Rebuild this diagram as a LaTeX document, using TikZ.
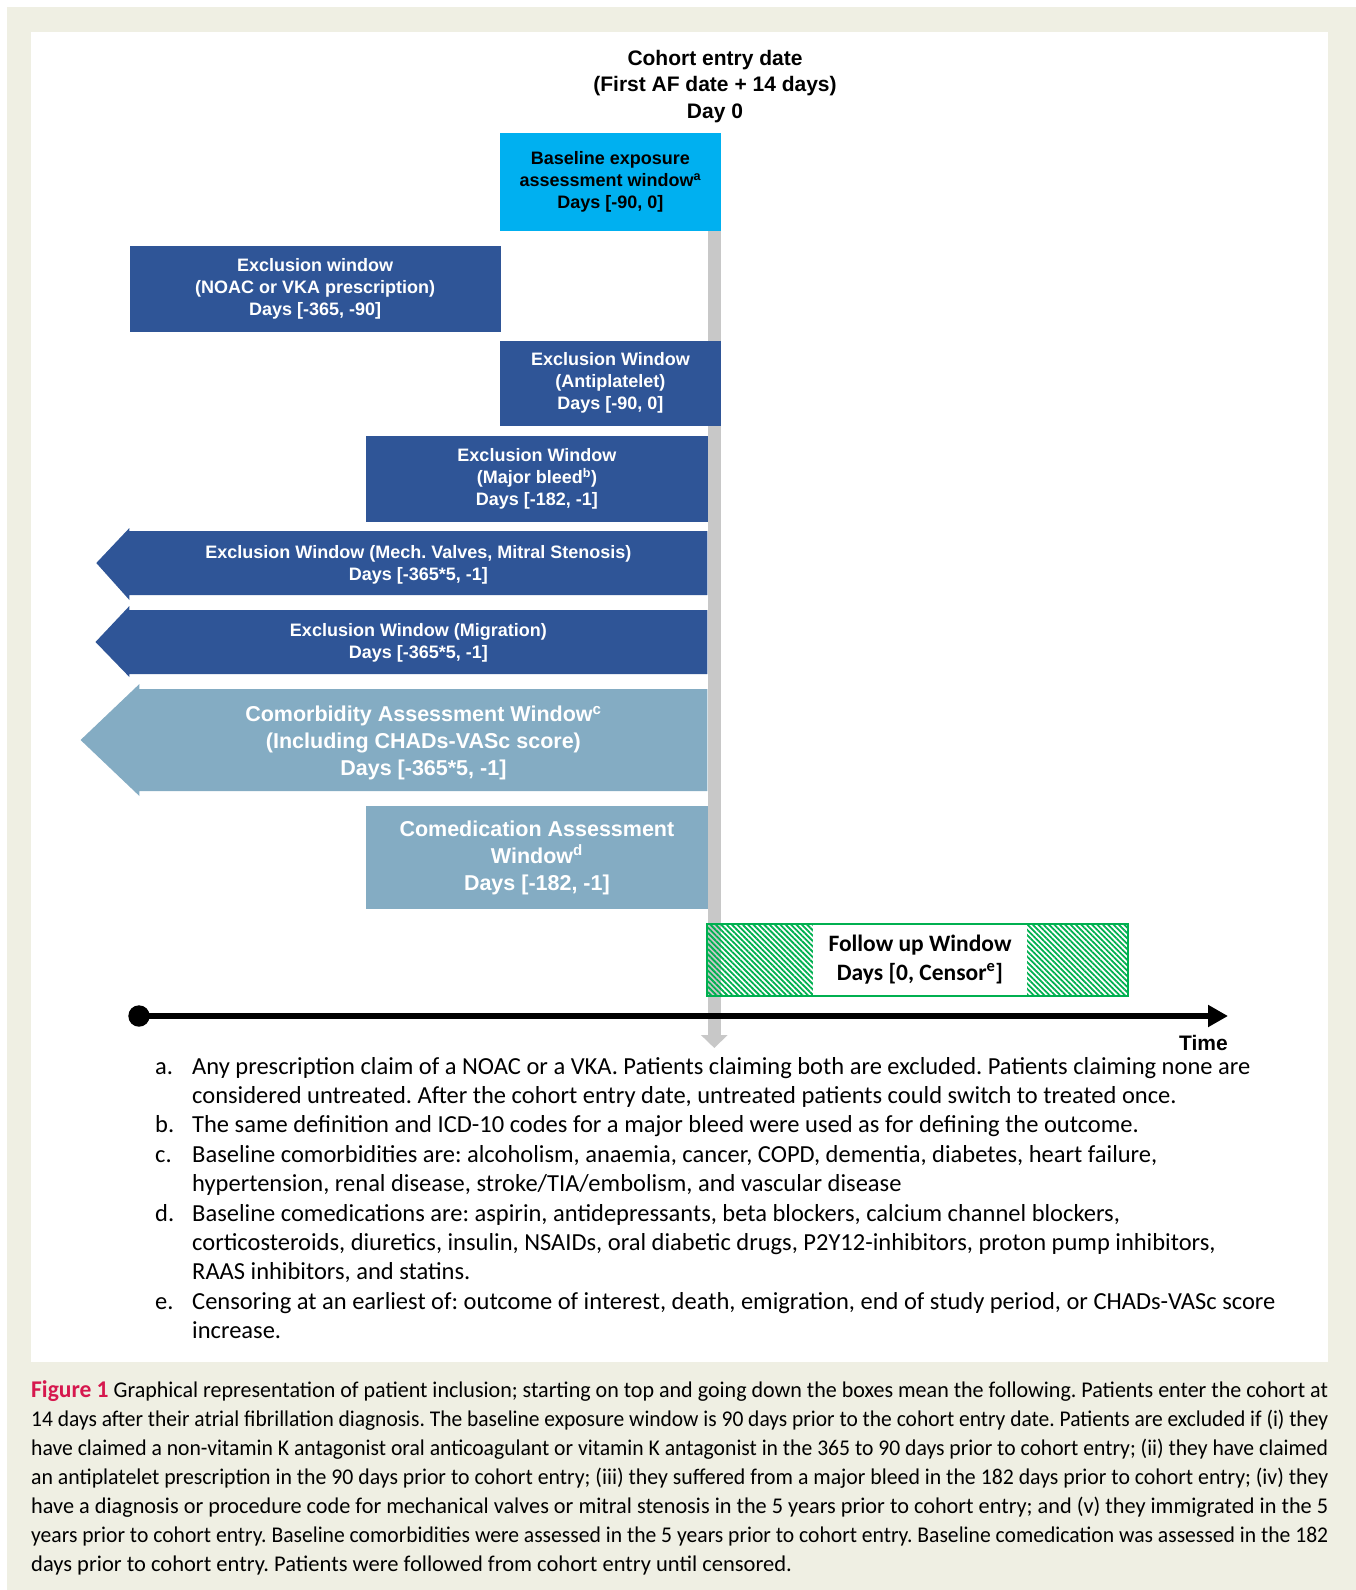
\documentclass[tikz,border=0pt]{standalone}
\usepackage{fontspec}
\usepackage{graphicx}
\setmainfont{Liberation Sans}
\newfontfamily\calibfont{Carlito}
\newfontfamily\capfont{Carlito}
\usetikzlibrary{arrows.meta,patterns.meta}
\definecolor{bgbeige}{RGB}{239,239,227}
\definecolor{basecyan}{RGB}{0,176,240}
\definecolor{exblue}{RGB}{47,85,151}
\definecolor{assessblue}{RGB}{132,172,195}
\definecolor{bargray}{RGB}{200,200,200}
\definecolor{fugreen}{RGB}{0,176,80}
\definecolor{figred}{RGB}{214,24,78}
\newsavebox\caplinebox
\newcommand\capline[1]{\sbox\caplinebox{#1}\ifdim\wd\caplinebox>1297pt\resizebox{1297pt}{\height}{\usebox\caplinebox}\else\makebox[1297pt][s]{#1}\fi}

\begin{document}
\frenchspacing
\begin{tikzpicture}[x=1pt,y=-1pt,
  winbox/.style={inner sep=0pt,anchor=north west,align=center,text=white,fill=exblue,font=\bfseries\fontsize{18}{22}\selectfont},
  assessbox/.style={winbox,fill=assessblue,font=\bfseries\fontsize{21.5}{27}\selectfont},
  arrowtext/.style={inner sep=0pt,align=center,text=white,font=\bfseries\fontsize{18}{22}\selectfont},
  notelabel/.style={inner sep=0pt,anchor=base west,font=\calibfont\fontsize{24.5}{29.4}\selectfont},
  notetext/.style={inner sep=0pt,anchor=north west,align=left,font=\calibfont\fontsize{24.5}{29.4}\selectfont}]
\useasboundingbox (0,0) rectangle (1356,1590);
\fill[bgbeige] (7,7) rectangle (1356,1590);
\fill[white] (31,32) rectangle (1328,1362);

\coordinate (bartop) at (714.3,133);
\coordinate (barend) at (714.3,1048);
\draw[bargray,line width=12.5pt,-{Triangle[length=13pt,width=26pt]}] (bartop) -- (barend);

\node[inner sep=0pt,align=center,font=\bfseries\fontsize{21}{26.3}\selectfont] (entry) at (715,86.5) {Cohort entry date\\(First AF date + 14 days)\\Day 0};

\node[winbox,fill=basecyan,text=black,minimum width=220.5pt,minimum height=98pt] (baseline) at (500,132.5) {Baseline exposure\\assessment window\textsuperscript{a}\\Days [-90, 0]};
\node[winbox,minimum width=371pt,minimum height=86pt] (noac) at (129.4,246) {Exclusion window\\(NOAC or VKA prescription)\\Days [-365, -90]};
\node[winbox,minimum width=220.5pt,minimum height=85.5pt] (antiplt) at (500,340.3) {Exclusion Window\\(Antiplatelet)\\Days [-90, 0]};
\node[winbox,minimum width=341.4pt,minimum height=85.5pt] (bleed) at (366,436) {Exclusion Window\\(Major bleed\textsuperscript{b})\\Days [-182, -1]};

\fill[exblue] (707.4,531) -- (129.4,531) -- (129.4,528) -- (96.3,563) -- (129.4,600) -- (129.4,595) -- (707.4,595) -- cycle;
\node[arrowtext] (valves) at (418.4,564.5) {Exclusion Window (Mech. Valves, Mitral Stenosis)\\Days [-365*5, -1]};
\fill[exblue] (707.4,610) -- (129.4,610) -- (129.4,606) -- (95.5,642) -- (129.4,677) -- (129.4,674) -- (707.4,674) -- cycle;
\node[arrowtext] (migration) at (418.4,643) {Exclusion Window (Migration)\\Days [-365*5, -1]};
\fill[assessblue] (707.4,689) -- (139.4,689) -- (139.4,684) -- (80.6,740) -- (139.4,796) -- (139.4,791) -- (707.4,791) -- cycle;
\node[arrowtext,font=\bfseries\fontsize{21.5}{27}\selectfont] (comorb) at (423.4,743) {Comorbidity Assessment Window\textsuperscript{c}\\(Including CHADs-VASc score)\\Days [-365*5, -1]};

\node[assessbox,minimum width=341.4pt,minimum height=102.5pt] (comed) at (366,806) {Comedication Assessment\\Window\textsuperscript{d}\\Days [-182, -1]};

\coordinate (fu0) at (707.4,923.5);
\coordinate (fu1) at (1128,995.5);
\fill[pattern={Lines[angle=-45,distance=3.8pt,line width=1.8pt]},pattern color=fugreen] (fu0) rectangle (fu1);
\node[fill=white,inner sep=0pt,minimum width=214pt,minimum height=71pt,align=center,font=\calibfont\bfseries\fontsize{23.5}{29}\selectfont] (followup) at (920,959.5) {Follow up Window\\Days [0, Censor\textsuperscript{e}]};
\draw[fugreen,line width=2pt] (fu0) rectangle (fu1);

\node[circle,fill=black,inner sep=0pt,minimum size=21.4pt] (t0) at (139,1016) {};
\coordinate (t1) at (1228,1016);
\draw[line width=6pt,-{Triangle[length=20pt,width=21pt]}] (t0.center) -- (t1);
\node[anchor=base east,inner sep=0pt,font=\bfseries\fontsize{21}{25}\selectfont] (time) at (1228,1050) {Time};

\node[notelabel] (la) at (155,1074) {a.};
\node[notetext] (na) at (192,1056) {\rule{0pt}{18pt}Any prescription claim of a NOAC or a VKA. Patients claiming both are excluded. Patients claiming none are\\considered untreated. After the cohort entry date, untreated patients could switch to treated once.};
\node[notelabel] (lb) at (155,1132.8) {b.};
\node[notetext] (nb) at (192,1112.2) {\strut The same definition and ICD-10 codes for a major bleed were used as for defining the outcome.};
\node[notelabel] (lc) at (155,1162.2) {c.};
\node[notetext] (nc) at (192,1141.6) {\strut Baseline comorbidities are: alcoholism, anaemia, cancer, COPD, dementia, diabetes, heart failure,\\hypertension, renal disease, stroke/TIA/embolism, and vascular disease};
\node[notelabel] (ld) at (155,1221) {d.};
\node[notetext] (nd) at (192,1200.4) {\strut Baseline comedications are: aspirin, antidepressants, beta blockers, calcium channel blockers,\\corticosteroids, diuretics, insulin, NSAIDs, oral diabetic drugs, P2Y12-inhibitors, proton pump inhibitors,\\RAAS inhibitors, and statins.};
\node[notelabel] (le) at (155,1309.2) {e.};
\node[notetext] (ne) at (192,1288.6) {\strut Censoring at an earliest of: outcome of interest, death, emigration, end of study period, or CHADs-VASc score\\increase.};

\node[inner sep=0pt,anchor=north west,align=left,font=\capfont\fontsize{22.5}{29}\selectfont] (caption) at (31,1377) {%
\strut\capline{\textcolor{figred}{\fontsize{24}{29}\selectfont\bfseries Figure 1} Graphical representation of patient inclusion; starting on top and going down the boxes mean the following. Patients enter the cohort at}\\
\capline{14 days after their atrial fibrillation diagnosis. The baseline exposure window is 90 days prior to the cohort entry date. Patients are excluded if (i) they}\\
\capline{have claimed a non-vitamin K antagonist oral anticoagulant or vitamin K antagonist in the 365 to 90 days prior to cohort entry; (ii) they have claimed}\\
\capline{an antiplatelet prescription in the 90 days prior to cohort entry; (iii) they suffered from a major bleed in the 182 days prior to cohort entry; (iv) they}\\
\capline{have a diagnosis or procedure code for mechanical valves or mitral stenosis in the 5 years prior to cohort entry; and (v) they immigrated in the 5}\\
\capline{years prior to cohort entry. Baseline comorbidities were assessed in the 5 years prior to cohort entry. Baseline comedication was assessed in the 182}\\
days prior to cohort entry. Patients were followed from cohort entry until censored.};
\end{tikzpicture}
\end{document}
